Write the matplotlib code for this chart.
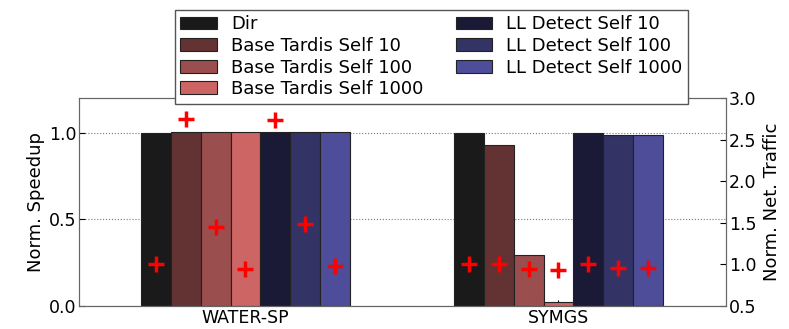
from matplotlib import pyplot as plt
import numpy as np

# data
benchmarks = ['WATER-SP', 'SYMGS']
labels = ['Dir', 'Base Tardis Self 10', 'Base Tardis Self 100', 'Base Tardis Self 1000',
          'LL Detect Self 10', 'LL Detect Self 100', 'LL Detect Self 1000']
colors = ['#1a1a1a', '#633232', '#9a4e4e', '#cd6565', '#1a1a37', '#333366', '#4d4d99']

speedup_water = [1.0, 1.005, 1.003, 1.003, 1.003, 1.003, 1.003]
speedup_symgs = [1.0, 0.93, 0.297, 0.023, 0.996, 0.984, 0.984]
traffic_water = [1.0, 2.75, 1.45, 0.95, 2.74, 1.49, 0.98]
traffic_symgs = [1.0, 1.0, 0.95, 0.93, 1.01, 0.955, 0.955]

speedup = np.array([speedup_water, speedup_symgs])
traffic = np.array([traffic_water, traffic_symgs])

x = np.arange(len(benchmarks))
width = 0.095
n = len(labels)

fig = plt.figure(figsize=(7.89, 3.29), dpi=100)
ax = fig.add_axes([0.1001, 0.0699, 0.8199, 0.6322])
ax2 = ax.twinx()

bars = []
for i in range(n):
    pos = x + (i - (n - 1) / 2) * width
    b = ax.bar(pos, speedup[:, i], width, color=colors[i], edgecolor='#222222',
               linewidth=0.8, label=labels[i], zorder=2)
    bars.append(b)
    ax2.plot(pos, traffic[:, i], linestyle='none', marker='+', color='red',
             markersize=11, markeredgewidth=2.5, zorder=3)

ax.set_xlim(-0.532, 1.535)
ax.set_ylim(0, 1.2)
ax2.set_ylim(0.5, 3.0)
ax.set_yticks([0.0, 0.5, 1.0])
ax2.set_yticks([0.5, 1.0, 1.5, 2.0, 2.5, 3.0])
ax.set_xticks(x, benchmarks)
ax.yaxis.grid(True, linestyle=':', color='#777777', linewidth=0.8)
ax.set_axisbelow(True)

ax.set_ylabel('Norm. Speedup', fontsize=13, labelpad=3)
ax2.set_ylabel('Norm. Net. Traffic', fontsize=13, labelpad=5)
ax.tick_params(direction='in', labelsize=12.5, length=4, pad=2)
ax2.tick_params(direction='in', labelsize=12.5, length=4, pad=2)
for a in (ax, ax2):
    for s in a.spines.values():
        s.set_color('#666666')

leg = fig.legend(handles=bars, loc='upper center', bbox_to_anchor=(0.547, 0.97),
                 ncol=2, fontsize=13, fancybox=False, edgecolor='#555555',
                 labelspacing=0.2, handlelength=2.0, handletextpad=0.8,
                 columnspacing=1.8, borderaxespad=0, borderpad=0.3, framealpha=1)
leg.set_zorder(10)

fig.savefig('out.png', dpi=100)
